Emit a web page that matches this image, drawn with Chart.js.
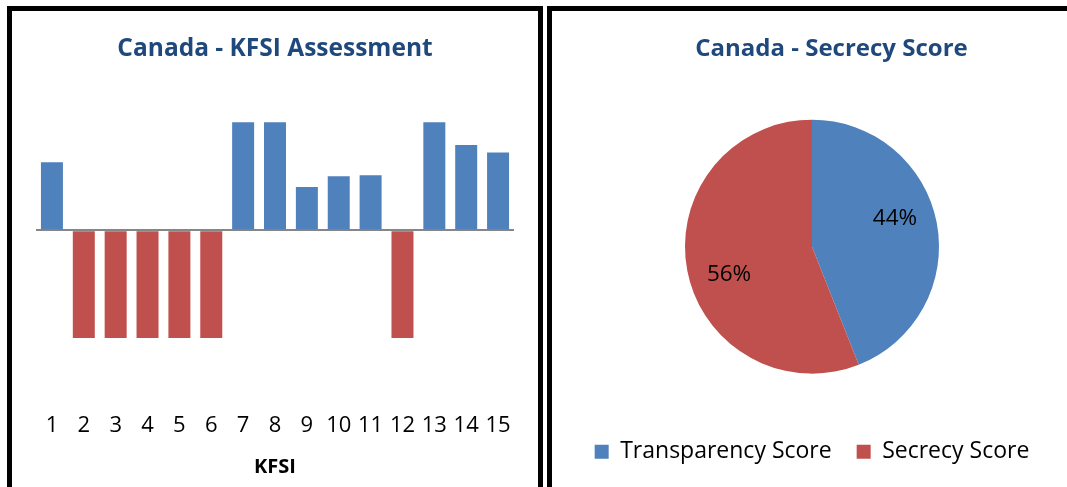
<!DOCTYPE html>
<html>
<head>
<meta charset="utf-8">
<script src="https://cdn.jsdelivr.net/npm/chart.js@4.4.0/dist/chart.umd.min.js"></script>
<style>
  body { margin: 0; background: #fff; width: 1067px; height: 487px; overflow: hidden; position: relative; }
  .panel { position: absolute; top: 6px; border: 5px solid #000; background: #fff; box-sizing: border-box; }
  #left { left: 7px; width: 536px; height: 600px; }
  #right { left: 547px; width: 620px; height: 600px; }
  canvas { position: absolute; left: 0; top: 0; }
  #pieTitle {
    position: absolute; left: 0; width: 559px; top: 21px; text-align: center;
    font: bold 24px "Open Sans", sans-serif; line-height: 29px; color: #1F497D;
  }
</style>
</head>
<body>
<div id="left" class="panel"><canvas id="kfsiChart" width="526" height="476"></canvas></div>
<div id="right" class="panel">
  <canvas id="pieChart" width="564" height="476"></canvas>
  <div id="pieTitle">Canada - Secrecy Score</div>
</div>
<script>
// --- Data ---
const kfsiLabels = ['1', '2', '3', '4', '5', '6', '7', '8', '9', '10', '11', '12', '13', '14', '15'];
const kfsiValues = [0.63, -1, -1, -1, -1, -1, 1, 1, 0.40, 0.50, 0.51, -1, 1, 0.79, 0.72];

const pieLabels = ['Transparency Score', 'Secrecy Score'];
const pieValues = [44, 56];

const BLUE = '#4F81BD';
const RED = '#C0504D';

Chart.defaults.font.family = '"Open Sans", sans-serif';
Chart.defaults.color = '#000';

// --- KFSI bar chart ---
new Chart(document.getElementById('kfsiChart'), {
    type: 'bar',
    data: {
        labels: kfsiLabels,
        datasets: [{
            data: kfsiValues,
            backgroundColor: c => c.raw >= 0 ? BLUE : RED,
            categoryPercentage: 1,
            barPercentage: 0.69
        }]
    },
    options: {
        responsive: false,
        animation: false,
        layout: { padding: { left: 24, right: 24, top: 0, bottom: 8 } },
        plugins: {
            legend: { display: false },
            tooltip: { enabled: false },
            title: {
                display: true,
                text: 'Canada - KFSI Assessment',
                color: '#1F497D',
                font: { size: 24.5, weight: 'bold' },
                padding: { top: 23.3, bottom: 37 }
            }
        },
        scales: {
            x: {
                // tick marks are hidden, their length just pushes the labels down
                grid: { display: false, drawTicks: true, tickLength: 18 },
                border: { display: false },
                ticks: { color: '#000', font: { size: 22 }, padding: 3, maxRotation: 0, autoSkip: false },
                title: { display: true, text: 'KFSI', color: '#000', font: { size: 20, weight: 'bold' }, padding: { top: 12.6, bottom: 0 } }
            },
            y: {
                min: -1.5,
                max: 1.2,
                ticks: { display: false, stepSize: 0.5 },
                border: { display: false },
                grid: {
                    drawTicks: false,
                    color: c => c.tick && c.tick.value === 0 ? '#868686' : 'rgba(0,0,0,0)',
                    lineWidth: 2
                }
            }
        }
    }
});

// --- Secrecy score pie ---
// percent labels placed inside each slice
const pieLabelPlugin = {
    id: 'pieLabels',
    afterDatasetsDraw(chart) {
        const meta = chart.getDatasetMeta(0);
        const data = chart.data.datasets[0].data;
        const total = data.reduce((a, b) => a + b, 0);
        const ctx = chart.ctx;
        ctx.save();
        ctx.font = '22.5px "Open Sans", sans-serif';
        ctx.fillStyle = '#000';
        ctx.textAlign = 'center';
        ctx.textBaseline = 'middle';
        meta.data.forEach((arc, i) => {
            const p = arc.getProps(['x', 'y', 'startAngle', 'endAngle', 'outerRadius'], true);
            const mid = (p.startAngle + p.endAngle) / 2 - 8 * Math.PI / 180;
            const r = p.outerRadius * 0.69;
            ctx.fillText(Math.round(data[i] / total * 100) + '%', p.x + Math.cos(mid) * r, p.y + Math.sin(mid) * r);
        });
        ctx.restore();
    }
};

new Chart(document.getElementById('pieChart'), {
    type: 'pie',
    data: {
        labels: pieLabels,
        datasets: [{
            data: pieValues,
            backgroundColor: [BLUE, RED],
            borderWidth: 0,
            radius: 127
        }]
    },
    options: {
        responsive: false,
        animation: false,
        layout: { padding: { left: 0, right: 44, top: 67, bottom: 13.75 } },
        plugins: {
            legend: {
                position: 'bottom',
                labels: { color: '#000', boxWidth: 14, boxHeight: 14, padding: 25, font: { size: 23 } }
            },
            tooltip: { enabled: false }
        }
    },
    plugins: [pieLabelPlugin]
});
</script>
</body>
</html>
